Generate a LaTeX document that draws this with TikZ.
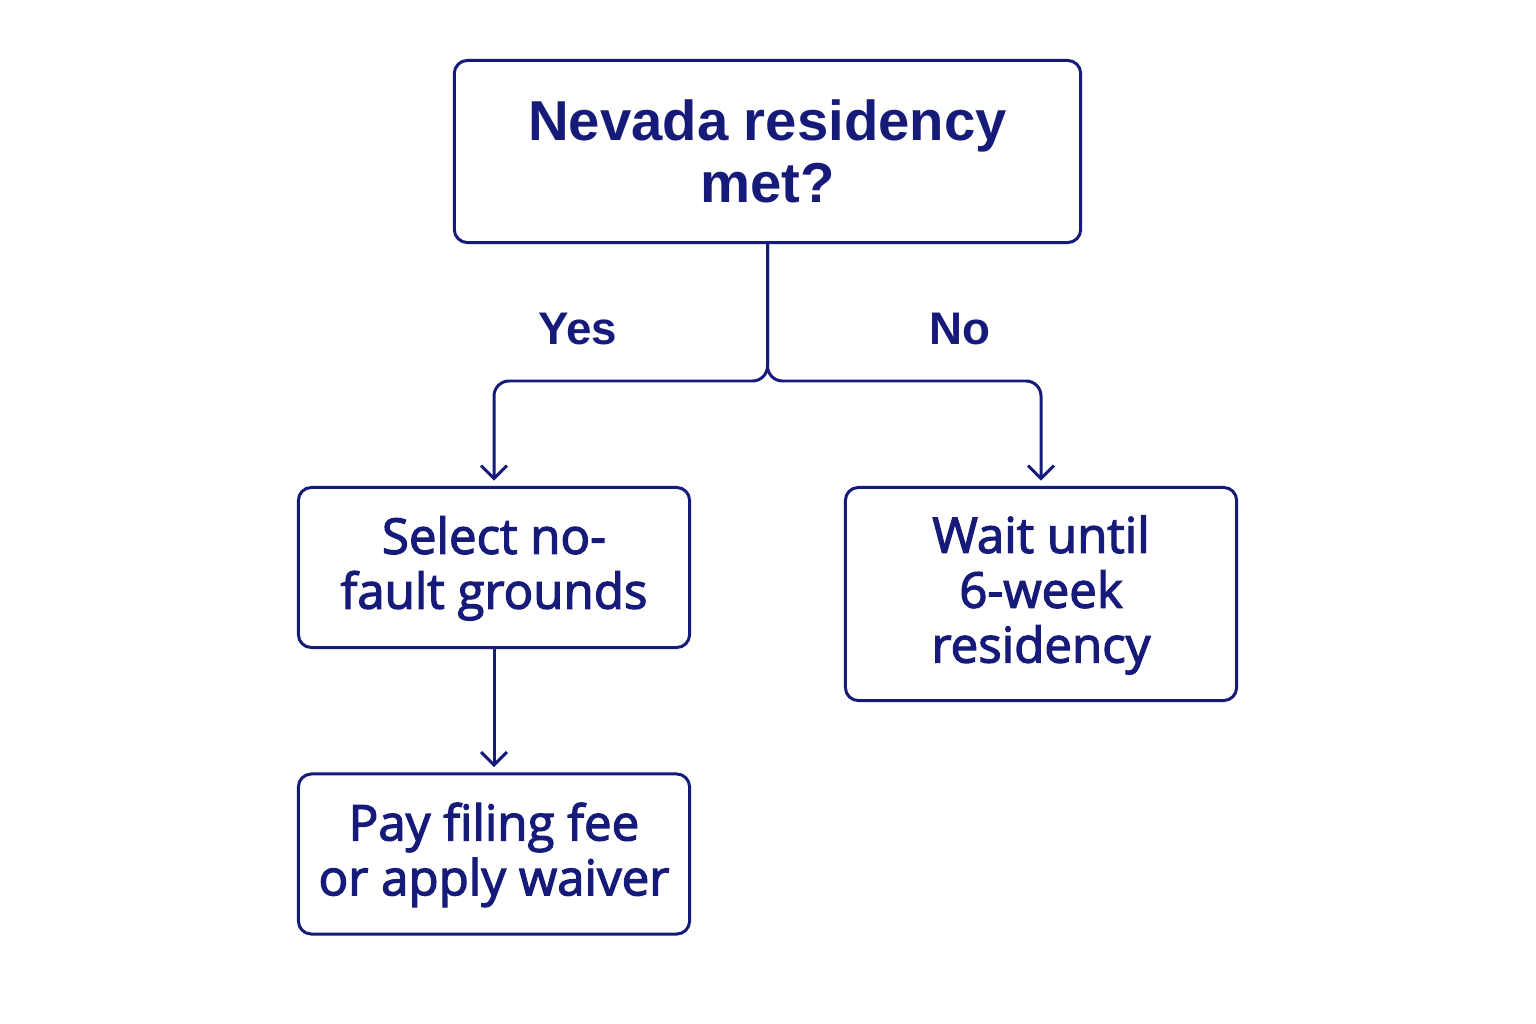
\documentclass[tikz,border=0pt]{standalone}
\usepackage{fontspec}
\setmainfont{Liberation Sans}
\newfontfamily\boxfont{Open Sans}[FakeBold=2.5]
\usetikzlibrary{arrows.meta}
\definecolor{navy}{RGB}{22,26,120}
\begin{document}
\begin{tikzpicture}[x=0.01cm,y=-0.01cm,
  box/.style={draw=navy, line width=0.85pt, rounded corners=0.13cm, align=center, inner sep=0pt,
    text=navy, minimum width=3.91cm, minimum height=1.6cm, text depth=0.1cm,
    font=\boxfont\fontsize{14}{15.6}\selectfont},
  ask/.style={box, minimum width=6.26cm, minimum height=1.82cm, text depth=-0.05cm,
    font=\bfseries\fontsize{16}{17.6}\selectfont},
  answer/.style={text=navy, font=\bfseries\fontsize{13}{15}\selectfont},
  flow/.style={draw=navy, line width=0.85pt, rounded corners=0.15cm, shorten >=1.5pt,
    -{Straight Barb[length=0.13cm,width=0.26cm]}}]
\useasboundingbox (0,0) rectangle (1536,1024);
\node[ask] (resident) at (767.5,151.5){Nevada residency\\met?};
\node[box] (grounds) at (494,567.5){Select no-\\fault grounds};
\node[box, minimum height=2.13cm] (wait) at (1041,594){Wait until\\6-week\\residency};
\node[box] (fee) at (494,854){Pay filing fee\\or apply waiver};
\coordinate (split) at (767.5,381);
\node[answer] (yes) at (578,329){Yes};
\node[answer] (no) at (960,329){No};
\draw[flow](resident.south) -- (split) -- (grounds.north |- split) -- (grounds.north);
\draw[flow](resident.south) -- (split) -- (wait.north |- split) -- (wait.north);
\draw[flow](grounds.south) -- (fee.north);
\end{tikzpicture}
\end{document}
